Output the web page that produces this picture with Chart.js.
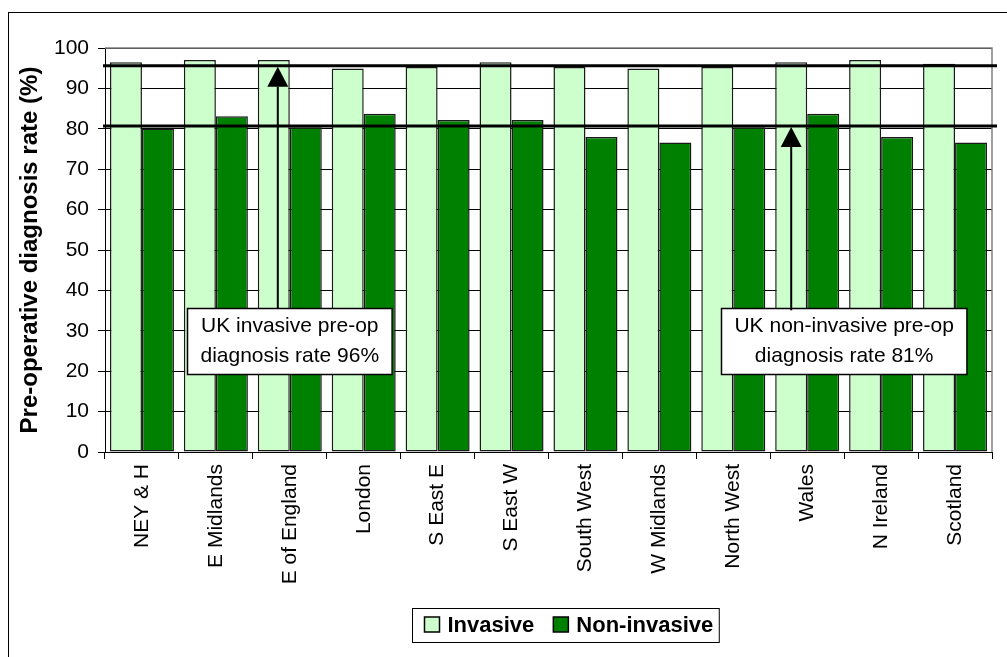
<!DOCTYPE html>
<html>
<head>
<meta charset="utf-8">
<title>Pre-operative diagnosis rate</title>
<script src="https://cdn.jsdelivr.net/npm/chart.js@4.4.1/dist/chart.umd.min.js"></script>
<style>
    body { margin: 0; background: #fff; }
    #wrap { width: 1007px; height: 657px; }
</style>
</head>
<body>
<div id="wrap"><canvas id="chart" width="1007" height="657"></canvas></div>
<script>
const regions = ['NEY & H', 'E Midlands', 'E of England', 'London', 'S East E', 'S East W',
    'South West', 'W Midlands', 'North West', 'Wales', 'N Ireland', 'Scotland'];
const invasive = [96.5, 97.0, 97.0, 94.9, 95.3, 96.5, 95.3, 94.9, 95.3, 96.5, 97.0, 96.1];
const nonInvasive = [80.1, 83.1, 80.4, 83.7, 82.2, 82.2, 78.0, 76.6, 80.4, 83.7, 78.0, 76.6];
const seriesNames = ['Invasive', 'Non-invasive'];
const ukInvasiveRate = 95.6;
const ukNonInvasiveRate = 80.7;
const noteInvasive = ['UK invasive pre-op', 'diagnosis rate 96%'];
const noteNonInvasive = ['UK non-invasive pre-op', 'diagnosis rate 81%'];
const yMin = 0, yMax = 100, yStep = 10;

const FONT = '"Liberation Sans", Arial, sans-serif';
const lightGreen = '#CCFFCC';
const darkGreen = '#008000';

// boxes, arrows, UK lines and the legend are drawn here
const decorPlugin = {
    id: 'decor',
    beforeDraw(chart) {
        const ctx = chart.ctx;
        ctx.save();
        ctx.fillStyle = '#fff';
        ctx.fillRect(0, 0, chart.width, chart.height);
        ctx.strokeStyle = '#000';
        ctx.lineWidth = 1;
        ctx.strokeRect(8.5, 12.5, 1100, 1100);
        ctx.restore();
    },
    beforeDatasetsDraw(chart) {
        const { ctx, chartArea: a } = chart;
        ctx.save();
        ctx.strokeStyle = '#808080';
        ctx.lineWidth = 1.5;
        ctx.beginPath();
        ctx.moveTo(a.left, a.top);
        ctx.lineTo(a.right, a.top);
        ctx.lineTo(a.right, a.bottom);
        ctx.stroke();
        ctx.restore();
    },
    afterDatasetsDraw(chart) {
        const { ctx, chartArea: a } = chart;
        const x = chart.scales.x, y = chart.scales.y;
        ctx.save();

        // UK reference lines
        ctx.strokeStyle = '#000';
        ctx.lineWidth = 3;
        [ukInvasiveRate, ukNonInvasiveRate].forEach(v => {
            const py = y.getPixelForValue(v);
            ctx.beginPath();
            ctx.moveTo(a.left - 2, py);
            ctx.lineTo(a.right + 5, py);
            ctx.stroke();
        });

        const inv = chart.getDatasetMeta(0).data;
        const boxY = y.getPixelForValue(27.4);
        drawNote(ctx, noteInvasive, x.getPixelForValue(2), boxY);
        drawNote(ctx, noteNonInvasive, x.getPixelForValue(9.5), boxY);

        drawArrow(ctx, inv[2].x + 4, boxY - 33, y.getPixelForValue(ukInvasiveRate) + 1);
        drawArrow(ctx, inv[9].x, boxY - 31, y.getPixelForValue(ukNonInvasiveRate) + 1);

        drawLegend(ctx, chart);
        ctx.restore();
    }
};

function drawNote(ctx, lines, cx, cy) {
    ctx.font = '21px ' + FONT;
    const w = Math.max(...lines.map(l => ctx.measureText(l).width)) + 26;
    const h = 66;
    const left = Math.round(cx - w / 2) + 0.5, top = Math.round(cy - h / 2) + 0.5;
    ctx.fillStyle = '#fff';
    ctx.fillRect(left, top, w, h);
    ctx.strokeStyle = '#000';
    ctx.lineWidth = 1.5;
    ctx.strokeRect(left, top, w, h);
    ctx.fillStyle = '#000';
    ctx.textAlign = 'center';
    ctx.textBaseline = 'middle';
    lines.forEach((l, i) => ctx.fillText(l, cx, cy - 15 + i * 30));
}

function drawArrow(ctx, ax, fromY, tipY) {
    const headLen = 20, headW = 21;
    ctx.strokeStyle = '#000';
    ctx.fillStyle = '#000';
    ctx.lineWidth = 2;
    ctx.beginPath();
    ctx.moveTo(ax, fromY);
    ctx.lineTo(ax, tipY + headLen);
    ctx.stroke();
    ctx.beginPath();
    ctx.moveTo(ax, tipY);
    ctx.lineTo(ax - headW / 2, tipY + headLen);
    ctx.lineTo(ax + headW / 2, tipY + headLen);
    ctx.closePath();
    ctx.fill();
}

function drawLegend(ctx, chart) {
    const colors = chart.data.datasets.map(d => d.backgroundColor);
    ctx.font = 'bold 22px ' + FONT;
    const sq = 15, gap = 8, itemGap = 19, pad = 12;
    const widths = seriesNames.map(n => ctx.measureText(n).width);
    const total = pad + sq + gap + widths[0] + itemGap + sq + gap + widths[1] + 6;
    const cx = 565, top = 608, h = 34;
    const left = Math.round(cx - total / 2) + 0.5;
    ctx.strokeStyle = '#000';
    ctx.lineWidth = 1;
    ctx.strokeRect(left, top + 0.5, total, h);
    let px = left + pad;
    ctx.textAlign = 'left';
    ctx.textBaseline = 'middle';
    seriesNames.forEach((n, i) => {
        ctx.fillStyle = colors[i];
        ctx.fillRect(px, top + 9, sq, sq);
        ctx.lineWidth = 1.5;
        ctx.strokeRect(px, top + 9, sq, sq);
        ctx.fillStyle = '#000';
        ctx.fillText(n, px + sq + gap, top + h / 2 + 1);
        px += sq + gap + widths[i] + itemGap;
    });
}

const ctx = document.getElementById('chart').getContext('2d');
new Chart(ctx, {
    type: 'bar',
    data: {
        labels: regions,
        datasets: [{
            label: seriesNames[0],
            data: invasive,
            backgroundColor: lightGreen,
            borderColor: '#1a1a1a',
            borderWidth: 1.5,
            borderSkipped: false,
            categoryPercentage: 0.866,
            barPercentage: 1
        }, {
            label: seriesNames[1],
            data: nonInvasive,
            backgroundColor: darkGreen,
            borderColor: '#1a1a1a',
            borderWidth: 1.5,
            borderSkipped: false,
            categoryPercentage: 0.866,
            barPercentage: 1
        }]
    },
    options: {
        responsive: false,
        animation: false,
        layout: { padding: { top: 48, right: 15, left: 0, bottom: 0 } },
        plugins: {
            legend: { display: false },
            tooltip: { enabled: false }
        },
        scales: {
            x: {
                afterFit: (scale) => { scale.height = 205; },
                grid: {
                    drawOnChartArea: false,
                    drawTicks: true,
                    tickLength: 7,
                    color: '#000',
                    offset: true
                },
                border: { display: true, color: '#000', width: 1 },
                ticks: {
                    color: '#000',
                    font: { family: FONT, size: 21 },
                    minRotation: 90,
                    maxRotation: 90,
                    padding: 5,
                    autoSkip: false
                }
            },
            y: {
                min: yMin,
                max: yMax,
                afterFit: (scale) => { scale.width = 105; },
                grid: {
                    drawOnChartArea: true,
                    color: '#000',
                    lineWidth: 1,
                    tickLength: 7
                },
                border: { display: true, color: '#000', width: 1 },
                ticks: {
                    stepSize: yStep,
                    color: '#000',
                    padding: 9,
                    font: { family: FONT, size: 21 }
                },
                title: {
                    display: true,
                    text: 'Pre-operative diagnosis rate (%)',
                    color: '#000',
                    font: { family: FONT, size: 24, weight: 'bold' },
                    padding: { top: 16, bottom: 0 }
                }
            }
        }
    },
    plugins: [decorPlugin]
});
</script>
</body>
</html>
